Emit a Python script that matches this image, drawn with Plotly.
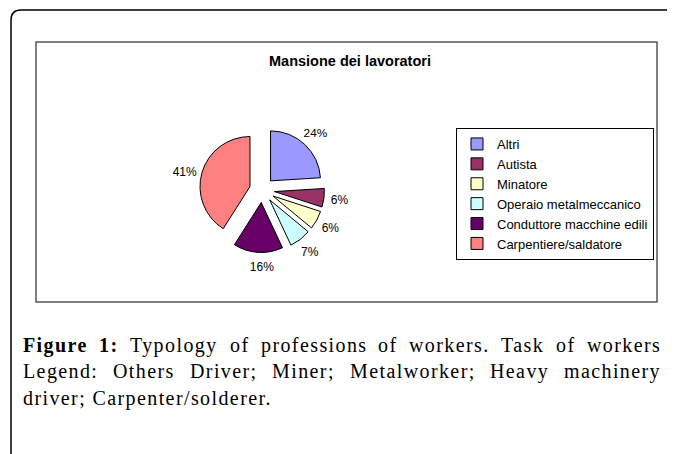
import plotly.graph_objects as go

# ---- data ----
categories = ["Altri", "Autista", "Minatore", "Operaio metalmeccanico",
              "Conduttore macchine edili", "Carpentiere/saldatore"]
percent_values = [24, 6, 6, 7, 16, 41]
slice_colors = ["#9999FF", "#993366", "#FFFFCC", "#CCFFFF", "#660066", "#FF8080"]
chart_title = "Mansione dei lavoratori"
caption_line1 = [("Figure", True), ("1:", True), ("Typology", False), ("of", False),
                 ("professions", False), ("of", False), ("workers.", False),
                 ("Task", False), ("of", False), ("workers", False)]
caption_line2 = [("Legend:", False), ("Others", False), ("Driver;", False),
                 ("Miner;", False), ("Metalworker;", False), ("Heavy", False),
                 ("machinery", False)]
caption_line3 = "driver; Carpenter/solderer."

# page is offset by the default 8px body margin
OX, OY = 8, 8
FW, FH = 667, 446
px = lambda x: (x - OX) / FW
py = lambda y: 1 - (y - OY) / FH

# Times / Liberation Serif advance widths (per 1000 em)
REG = {' ': 250, '.': 250, ':': 278, ';': 278, '/': 278, '1': 500,
       'a': 444, 'b': 500, 'c': 444, 'd': 500, 'e': 444, 'f': 333, 'g': 500,
       'h': 500, 'i': 278, 'j': 278, 'k': 500, 'l': 278, 'm': 778, 'n': 500,
       'o': 500, 'p': 500, 'q': 500, 'r': 333, 's': 389, 't': 278, 'u': 500,
       'v': 500, 'w': 722, 'x': 500, 'y': 500, 'z': 444,
       'C': 667, 'D': 722, 'F': 556, 'H': 722, 'L': 611, 'M': 889, 'O': 722,
       'T': 611}
BOLD = {'F': 611, 'i': 278, 'g': 500, 'u': 556, 'r': 444, 'e': 444, '1': 500,
        ':': 333, ' ': 250}

CAP_SIZE = 20
LS = 1.4  # letter spacing px


def word_width(w, bold):
    table = BOLD if bold else REG
    return sum(table.get(c, 500) for c in w) * CAP_SIZE / 1000 + LS * len(w)


# pie geometry (page px)
CX, CY, R, PULL = 262, 190, 50, 0.25
HALF = R * (1 + PULL)
RING_R, RING_HOLE = 92, 0.70      # transparent ring carrying most labels
OUT_R = 64                        # transparent disc carrying the big-slice label

big = max(range(len(percent_values)), key=lambda i: percent_values[i])
pct_text = [f"{v}%" for v in percent_values]
ring_text = [t if i != big else "" for i, t in enumerate(pct_text)]
out_text = [t if i == big else "" for i, t in enumerate(pct_text)]
label_font = dict(family="Liberation Sans, Arial", size=12, color="black")
clear = ["rgba(0,0,0,0)"] * len(categories)


def dom(r):
    return dict(x=[px(CX - r), px(CX + r)], y=[py(CY + r), py(CY - r)])


fig = go.Figure()
fig.add_trace(go.Pie(
    labels=categories, values=percent_values, sort=False,
    direction="clockwise", rotation=0,
    pull=[PULL] * len(categories),
    marker=dict(colors=slice_colors, line=dict(color="black", width=1)),
    textinfo="none",
    domain=dom(HALF),
    hoverinfo="label+percent",
))
fig.add_trace(go.Pie(
    labels=categories, values=percent_values, sort=False,
    direction="clockwise", rotation=0, hole=RING_HOLE, showlegend=False,
    marker=dict(colors=clear, line=dict(width=0)),
    text=ring_text, texttemplate="%{text}",
    textposition="inside", insidetextorientation="horizontal",
    textfont=label_font, domain=dom(RING_R), hoverinfo="skip",
))
fig.add_trace(go.Pie(
    labels=categories, values=percent_values, sort=False,
    direction="clockwise", rotation=0, showlegend=False,
    marker=dict(colors=clear, line=dict(width=0)),
    text=out_text, texttemplate="%{text}",
    textposition="outside",
    textfont=label_font, domain=dom(OUT_R), hoverinfo="skip",
))

shapes = [
    # outer rounded frame
    dict(type="path", xref="paper", yref="paper",
         path=f"M {px(11)},{py(460)} L {px(11)},{py(20)} Q {px(11)},{py(10)} {px(21)},{py(10)} L {px(690)},{py(10)}",
         line=dict(color="black", width=1.5)),
    # inner chart box
    dict(type="rect", xref="paper", yref="paper",
         x0=px(36), x1=px(657), y0=py(302), y1=py(42),
         line=dict(color="#555555", width=1.5)),
]

annotations = [
    dict(text=f"<b>{chart_title}</b>", x=px(350), y=py(61.5), xref="paper", yref="paper",
         xanchor="center", yanchor="middle", showarrow=False,
         font=dict(family="Liberation Sans, Arial", size=14.5, color="black")),
]

cap_font = dict(family="Liberation Serif, Times New Roman, serif", size=CAP_SIZE, color="black")


def justify(words, y_base, x_left=23, x_right=661):
    widths = [word_width(w, b) for w, b in words]
    gap = (x_right - x_left - sum(widths)) / (len(words) - 1)
    x = x_left
    for (w, b), wd in zip(words, widths):
        t = f"<span style='letter-spacing:{LS}px'>{w}</span>"
        if b:
            t = f"<b>{t}</b>"
        annotations.append(dict(text=t, x=px(x - 2), y=py(y_base - 0.3375 * CAP_SIZE),
                                xref="paper", yref="paper", xanchor="left",
                                yanchor="middle", showarrow=False, font=cap_font))
        x += wd + gap


justify(caption_line1, 352)
justify(caption_line2, 378)
annotations.append(dict(text=f"<span style='letter-spacing:{LS}px'>{caption_line3}</span>",
                        x=px(21), y=py(405 - 0.3375 * CAP_SIZE), xref="paper", yref="paper",
                        xanchor="left", yanchor="middle", showarrow=False, font=cap_font))

fig.update_layout(
    width=FW, height=FH,
    margin=dict(l=0, r=0, t=0, b=0),
    paper_bgcolor="white",
    plot_bgcolor="white",
    shapes=shapes,
    annotations=annotations,
    showlegend=True,
    legend=dict(x=px(456), y=py(128), xanchor="left", yanchor="top",
                bordercolor="black", borderwidth=1, bgcolor="white",
                font=dict(family="Liberation Sans, Arial", size=13, color="black"),
                traceorder="normal"),
)

fig.write_html("out.html")
